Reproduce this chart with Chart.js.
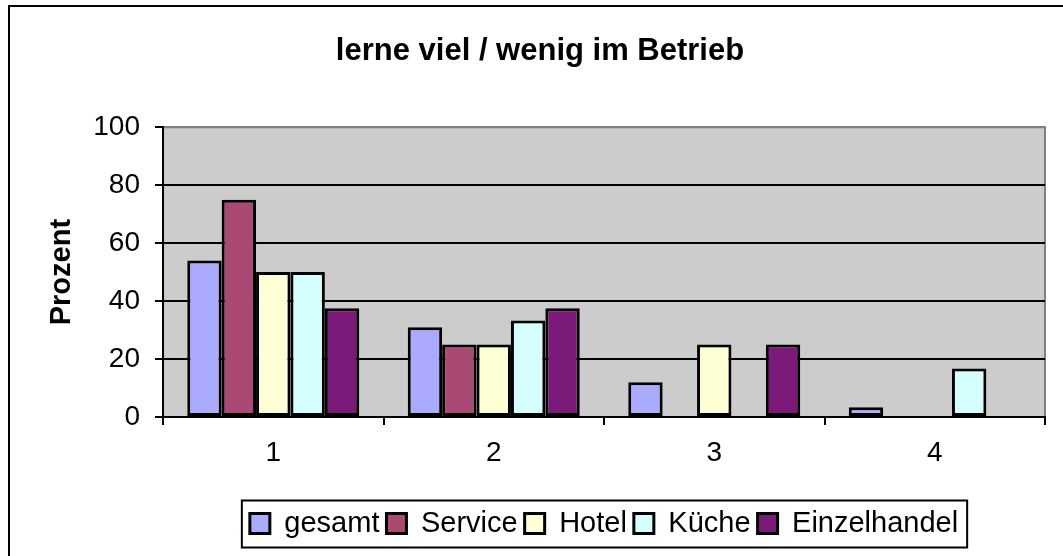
<!DOCTYPE html>
<html>
<head>
<meta charset="utf-8">
<script src="https://cdn.jsdelivr.net/npm/chart.js@4.4.1/dist/chart.umd.min.js"></script>
<style>
  html, body { margin: 0; padding: 0; background: #fff; }
  #wrap { position: relative; width: 1063px; height: 556px; }
</style>
</head>
<body>
<div id="wrap"><canvas id="chart" width="1063" height="556"></canvas></div>
<script>
// ── data ─────────────────────────────────────────────────────────────────
const categories   = ['1', '2', '3', '4'];
const gesamt       = [54, 31, 12, 3.4];
const service      = [75, 25, 0, 0];
const hotel        = [50, 25, 25, 0];
const kueche       = [50, 33.3, 0, 16.7];
const einzelhandel = [37.5, 37.5, 25, 0];
const yTicks       = [0, 20, 40, 60, 80, 100];

const seriesNames  = ['gesamt', 'Service', 'Hotel', 'Küche', 'Einzelhandel'];
const seriesColors = ['#aaaaff', '#a94a74', '#ffffd5', '#d5ffff', '#7b1a79'];

const FONT = 'Arial, "Liberation Sans", sans-serif';
const PLOT_BOTTOM = 417;
const PAD_BOTTOM = 8;

// plot background, outer frame and legend box
const decorPlugin = {
    id: 'decor',
    afterUpdate(chart) {
        // centre the legend under the plot area, like the original
        const lg = chart.legend, a = chart.chartArea;
        if (!lg || !a) return;
        const d = (a.left + a.right) / 2 - (lg.left + lg.right) / 2;
        lg.left += d;
        lg.right += d;
        (lg.legendHitBoxes || []).forEach(b => { b.left += d; });
    },
    beforeDraw(chart) {
        const { ctx, chartArea: a } = chart;
        ctx.save();
        ctx.fillStyle = '#fff';
        ctx.fillRect(0, 0, chart.width, chart.height);
        ctx.fillStyle = '#cccccc';
        ctx.fillRect(a.left, a.top, a.right - a.left, a.bottom - a.top);
        ctx.strokeStyle = '#808080';
        ctx.lineWidth = 2;
        ctx.beginPath();
        ctx.moveTo(a.left, a.top);
        ctx.lineTo(a.right, a.top);
        ctx.lineTo(a.right, a.bottom);
        ctx.stroke();
        // outer frame (only top/left visible in the picture)
        ctx.strokeStyle = '#000';
        ctx.beginPath();
        ctx.moveTo(9, chart.height);
        ctx.lineTo(9, 6);
        ctx.lineTo(chart.width, 6);
        ctx.stroke();
        ctx.restore();
    },
    afterDraw(chart) {
        const boxes = chart.legend && chart.legend.legendHitBoxes;
        if (!boxes || !boxes.length) return;
        const minX = Math.min(...boxes.map(b => b.left));
        const maxX = Math.max(...boxes.map(b => b.left + b.width));
        const cy = boxes[0].top + boxes[0].height / 2;
        const ctx = chart.ctx;
        ctx.save();
        ctx.strokeStyle = '#000';
        ctx.lineWidth = 2;
        ctx.strokeRect(minX - 8, cy - 23, maxX - minX + 17, 47);
        ctx.restore();
    }
};

const datasets = [gesamt, service, hotel, kueche, einzelhandel].map((vals, i) => ({
    label: seriesNames[i],
    data: vals,
    backgroundColor: seriesColors[i],
    borderColor: '#000',
    borderWidth: 3,
    borderSkipped: false,
    categoryPercentage: 0.78,
    barPercentage: 1.0
}));

new Chart(document.getElementById('chart').getContext('2d'), {
    type: 'bar',
    data: { labels: categories, datasets },
    plugins: [decorPlugin],
    options: {
        responsive: false,
        animation: false,
        devicePixelRatio: 1,
        layout: { padding: { left: 35, right: 18, top: 0, bottom: PAD_BOTTOM } },
        plugins: {
            tooltip: { enabled: false },
            title: {
                display: true,
                text: 'lerne viel / wenig im Betrieb',
                color: '#000',
                font: { family: FONT, size: 31, weight: 'bold', lineHeight: 1.2 },
                padding: { top: 33, bottom: 57 }
            },
            legend: {
                position: 'bottom',
                labels: {
                    color: '#000',
                    font: { family: FONT, size: 29 },
                    boxWidth: 20,
                    boxHeight: 20,
                    padding: 7
                }
            }
        },
        scales: {
            x: {
                offset: true,
                grid: {
                    offset: true,
                    drawOnChartArea: false,
                    drawTicks: true,
                    tickLength: 8,
                    color: '#000',
                    lineWidth: 2
                },
                border: { display: true, color: '#000', width: 2 },
                ticks: {
                    color: '#000',
                    font: { family: FONT, size: 28 },
                    padding: 11,
                    maxRotation: 0
                },
                afterFit(scale) {
                    const lg = scale.chart.legend;
                    const lh = lg ? lg.height : 0;
                    scale.height = scale.chart.height - PLOT_BOTTOM - PAD_BOTTOM - lh;
                }
            },
            y: {
                min: 0,
                max: 100,
                afterBuildTicks(scale) {
                    scale.ticks = yTicks.map(v => ({ value: v }));
                },
                grid: {
                    color: c => (c.tick && c.tick.value === 100 ? '#808080' : '#000'),
                    tickColor: '#000',
                    lineWidth: 2,
                    tickLength: 8
                },
                border: { display: true, color: '#000', width: 2 },
                ticks: {
                    color: '#000',
                    font: { family: FONT, size: 28 },
                    padding: 15
                },
                title: {
                    display: true,
                    text: 'Prozent',
                    color: '#000',
                    font: { family: FONT, size: 29, weight: 'bold', lineHeight: 1.2 },
                    padding: { top: 10, bottom: 0 }
                },
                afterFit(scale) {
                    scale.width = 128;
                }
            }
        }
    }
});
</script>
</body>
</html>
